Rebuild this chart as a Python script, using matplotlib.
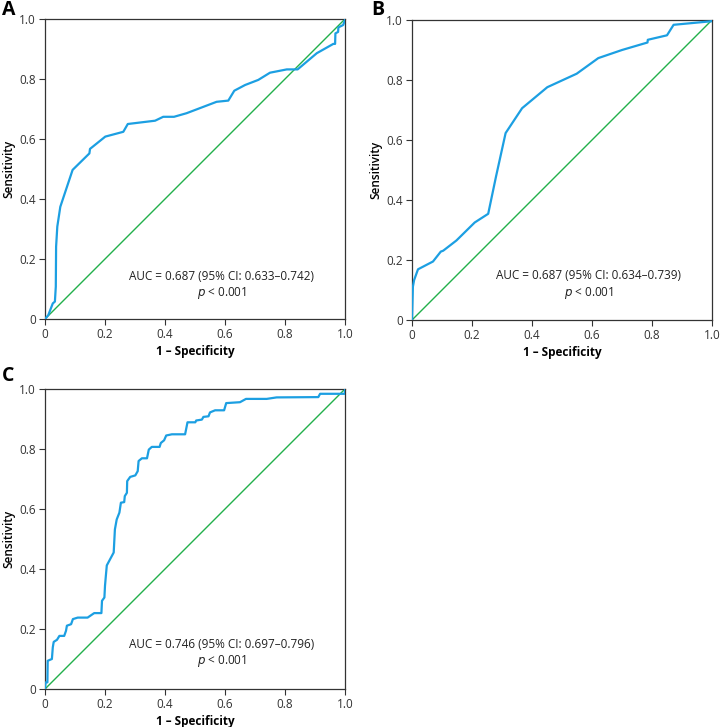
import matplotlib
matplotlib.use("Agg")
import matplotlib.pyplot as plt

plt.rcParams['font.family'] = ['Open Sans', 'DejaVu Sans']

# ---- Data ----
a_fpr = [0.0, 0.011, 0.026, 0.033, 0.036, 0.037, 0.041, 0.051, 0.092, 0.148, 0.150, 0.201,
         0.261, 0.276, 0.367, 0.394, 0.430, 0.472, 0.572, 0.611, 0.631, 0.667, 0.711, 0.750,
         0.806, 0.842, 0.906, 0.961, 0.967, 0.968, 0.977, 0.978, 0.994, 1.0, 1.0]
a_tpr = [0.0, 0.013, 0.052, 0.058, 0.108, 0.241, 0.308, 0.374, 0.497, 0.552, 0.567, 0.608,
         0.624, 0.650, 0.661, 0.674, 0.674, 0.686, 0.724, 0.728, 0.761, 0.780, 0.797, 0.821,
         0.832, 0.832, 0.886, 0.917, 0.917, 0.952, 0.957, 0.972, 0.980, 0.997, 1.0]

b_fpr = [0.0, 0.003, 0.007, 0.020, 0.070, 0.096, 0.104, 0.148, 0.209, 0.226, 0.254, 0.280,
         0.312, 0.367, 0.451, 0.549, 0.621, 0.700, 0.785, 0.786, 0.850, 0.872, 1.0, 1.0]
b_tpr = [0.0, 0.111, 0.133, 0.169, 0.195, 0.228, 0.231, 0.265, 0.325, 0.336, 0.354, 0.478,
         0.623, 0.706, 0.776, 0.821, 0.873, 0.900, 0.925, 0.934, 0.949, 0.984, 0.996, 1.0]

c_fpr = [0.0, 0.002, 0.008, 0.009, 0.023, 0.026, 0.029, 0.040, 0.048, 0.064, 0.070, 0.073,
         0.087, 0.093, 0.109, 0.142, 0.164, 0.188, 0.190, 0.198, 0.200, 0.203, 0.206, 0.229,
         0.233, 0.239, 0.248, 0.253, 0.264, 0.266, 0.273, 0.274, 0.284, 0.301, 0.309, 0.312,
         0.323, 0.340, 0.346, 0.356, 0.382, 0.386, 0.397, 0.404, 0.423, 0.467, 0.475, 0.501,
         0.504, 0.523, 0.528, 0.545, 0.550, 0.567, 0.597, 0.604, 0.650, 0.670, 0.739, 0.772,
         0.911, 0.917, 1.0, 1.0]
c_tpr = [0.0, 0.022, 0.022, 0.094, 0.100, 0.139, 0.157, 0.164, 0.177, 0.177, 0.194, 0.211,
         0.216, 0.233, 0.238, 0.238, 0.253, 0.253, 0.294, 0.305, 0.344, 0.379, 0.412, 0.455,
         0.532, 0.565, 0.588, 0.621, 0.623, 0.643, 0.654, 0.693, 0.707, 0.712, 0.726, 0.760,
         0.769, 0.769, 0.798, 0.807, 0.807, 0.820, 0.829, 0.845, 0.849, 0.849, 0.889, 0.889,
         0.895, 0.898, 0.907, 0.909, 0.922, 0.929, 0.929, 0.953, 0.956, 0.967, 0.967, 0.972,
         0.973, 0.984, 0.984, 1.0]

panels = ['A', 'B', 'C']
auc_texts = ['AUC = 0.687 (95% CI: 0.633–0.742)',
             'AUC = 0.687 (95% CI: 0.634–0.739)',
             'AUC = 0.746 (95% CI: 0.697–0.796)']
p_text = '< 0.001'
ticks = [0, 0.2, 0.4, 0.6, 0.8, 1.0]
tick_labels = ['0', '0.2', '0.4', '0.6', '0.8', '1.0']

BLUE = '#1c9fe2'
GREEN = '#22b04b'
DARK = '#333333'

W, H = 720, 727
fig = plt.figure(figsize=(W / 100, H / 100), dpi=100)

boxes = [(45, 19), (412, 20), (45, 389)]
curves = [(a_fpr, a_tpr), (b_fpr, b_tpr), (c_fpr, c_tpr)]
text_y = [(0.143, 0.088), (0.147, 0.089), (0.150, 0.092)]
letter_pos = [(2, 10), (371, 10), (2, 376)]

for i in range(3):
    lx, ty = boxes[i]
    ax = fig.add_axes([lx / W, (H - ty - 300) / H, 300 / W, 300 / H])
    fx, ty_ = curves[i]
    ax.plot([0, 1], [0, 1], color=GREEN, lw=1.0, zorder=2)
    ax.plot(fx, ty_, color=BLUE, lw=1.6, zorder=3, solid_joinstyle='round')
    ax.set_xlim(0, 1)
    ax.set_ylim(0, 1)
    ax.set_xticks(ticks)
    ax.set_xticklabels(tick_labels)
    ax.set_yticks(ticks)
    ax.set_yticklabels(tick_labels)
    for s in ax.spines.values():
        s.set_color(DARK)
        s.set_linewidth(0.9)
    ax.tick_params(direction='out', length=4, width=0.8, color=DARK,
                   labelsize=8.5, labelcolor='#333333', pad=2.5)
    ax.set_xlabel('1 – Specificity', fontsize=8.5, fontweight='bold', labelpad=3)
    ax.set_ylabel('Sensitivity', fontsize=8.5, fontweight='semibold', labelpad=3)
    ax.text(0.588, text_y[i][0], auc_texts[i], fontsize=8.5, ha='center', va='center',
            color='#222222')
    ax.text(0.588, text_y[i][1], r'$\it{p}$ ' + p_text, fontsize=8.5, ha='center', va='center',
            color='#222222')
    fig.text(letter_pos[i][0] / W, 1 - letter_pos[i][1] / H, panels[i], fontsize=14,
             fontweight='bold', ha='left', va='center')

fig.savefig('out.png', dpi=100)
